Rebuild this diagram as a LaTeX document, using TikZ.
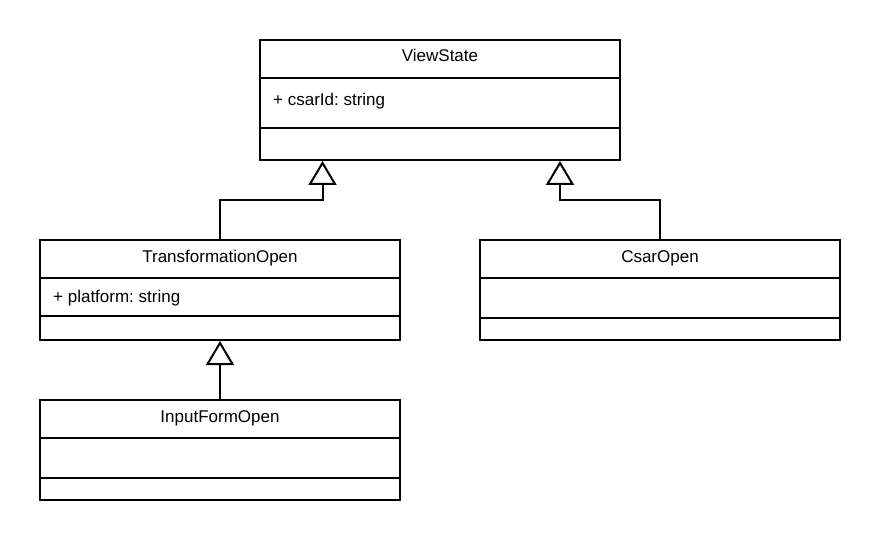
\documentclass[tikz,border=0pt]{standalone}
\usepackage{fontspec}
\setmainfont{Liberation Sans}
\usetikzlibrary{arrows.meta}
\frenchspacing
\begin{document}
\begin{tikzpicture}[x=1pt,y=-1pt,
  cls/.style={draw, line width=2pt, rectangle, minimum width=360pt, inner sep=0pt, outer sep=0pt, anchor=north west},
  lbl/.style={font=\fontsize{17pt}{20pt}\selectfont, inner sep=0pt, anchor=base},
  attr/.style={font=\fontsize{17pt}{20pt}\selectfont, inner sep=0pt, anchor=base west},
  sep/.style={line width=2pt},
  inh/.style={line width=2pt, line join=miter, -{Triangle[open, length=24pt, width=28pt]}}]
\useasboundingbox (0,0) rectangle (880,540);
% classes
\node[cls, minimum height=120pt] (vs) at (260,40) {};
\node[cls, minimum height=100pt] (to) at (40,240) {};
\node[cls, minimum height=100pt] (co) at (480,240) {};
\node[cls, minimum height=100pt] (io) at (40,400) {};
% compartments
\draw[sep] (vs.west |- 0,78) -- (vs.east |- 0,78);
\draw[sep] (vs.west |- 0,128) -- (vs.east |- 0,128);
\draw[sep] (to.west |- 0,278) -- (to.east |- 0,278);
\draw[sep] (to.west |- 0,316) -- (to.east |- 0,316);
\draw[sep] (co.west |- 0,278) -- (co.east |- 0,278);
\draw[sep] (co.west |- 0,318) -- (co.east |- 0,318);
\draw[sep] (io.west |- 0,438) -- (io.east |- 0,438);
\draw[sep] (io.west |- 0,478) -- (io.east |- 0,478);
% texts
\node[lbl] (vsname) at (440,62) {ViewState};
\node[attr] (vsattr) at (273,106) {+ csarId: string};
\node[lbl] (toname) at (220,262) {TransformationOpen};
\node[attr] (toattr) at (53,302) {+ platform: string};
\node[lbl] (coname) at (660,262) {CsarOpen};
\node[lbl] (ioname) at (220,422) {InputFormOpen};
% inheritance connectors
\coordinate (t1) at (322.5,161);
\coordinate (b1) at (322.5,200);
\coordinate (t2) at (560,161);
\coordinate (b2) at (560,200);
\coordinate (t3) at (220,341);
\draw[inh] (to.north) |- (b1) -- (t1);
\draw[inh] (co.north) |- (b2) -- (t2);
\draw[inh] (io.north) -- (t3);
\end{tikzpicture}
\end{document}
